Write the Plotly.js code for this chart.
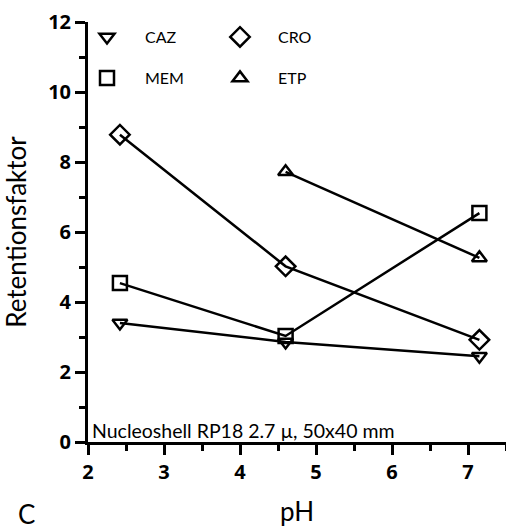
<!DOCTYPE html>
<html><head><meta charset="utf-8">
<script src="https://cdn.plot.ly/plotly-3.0.1.min.js"></script>
<style>html,body{margin:0;padding:0;background:#fff}#c{width:506px;height:527px}</style>
</head><body><div id="c"></div>
<script>
const pH = [2.42, 4.6, 7.15];
const CAZ = [3.4, 2.86, 2.45];
const MEM = [4.54, 3.03, 6.54];
const CRO = [8.78, 5.02, 2.92];
const ETP_pH = [4.6, 7.15];
const ETP = [7.72, 5.26];
const seriesNames = ['CAZ', 'MEM', 'CRO', 'ETP'];
const yTitle = 'Retentionsfaktor';
const xTitle = 'pH';
const note = 'Nucleoshell RP18 2.7 µ, 50x40 mm';
const panel = 'C';

const F = 'Lato, "Open Sans", sans-serif';
const FB = '"Open Sans", sans-serif';
const symbols = {CAZ:'triangle-down-open', MEM:'square-open', CRO:'diamond-open', ETP:'triangle-up-open'};
const sizes = {CAZ:13, MEM:14, CRO:15, ETP:13};
const data = {CAZ:[pH,CAZ], MEM:[pH,MEM], CRO:[pH,CRO], ETP:[ETP_pH,ETP]};
const legendIds = {CAZ:'legend', MEM:'legend2', CRO:'legend3', ETP:'legend4'};

const traces = [];
seriesNames.forEach(n => {
  traces.push({x:data[n][0].slice(), y:data[n][1].slice(), mode:'lines+markers', showlegend:false,
    line:{color:'#000', width:2.5},
    marker:{symbol:symbols[n], size:sizes[n], color:'#000', line:{width:2.5, color:'#000'}}});
});
seriesNames.forEach(n => {
  traces.push({x:[null], y:[null], mode:'markers', name:n, legend:legendIds[n], showlegend:true,
    marker:{symbol:symbols[n], size:sizes[n], color:'#000', line:{width:2.5, color:'#000'}}});
});

// plot area: x 88..506, y 22..442
function leg(xpx, ypx){
  return {xref:'paper', yref:'paper', x:(xpx-88)/418, y:(442-ypx)/420, xanchor:'left', yanchor:'middle',
    bgcolor:'rgba(0,0,0,0)', borderwidth:0, itemwidth:66, font:{family:F, size:16, color:'#000'}};
}

const layout = {
  width:506, height:527,
  margin:{l:88, r:0, t:22, b:85, autoexpand:false},
  paper_bgcolor:'#fff', plot_bgcolor:'#fff',
  xaxis:{range:[2,7.5], tickmode:'linear', tick0:2, dtick:1, showgrid:false, zeroline:false, layer:'above traces',
    showline:true, linewidth:3, linecolor:'#000', ticks:'outside', ticklen:10, tickwidth:3, tickcolor:'#000',
    minor:{dtick:0.5, ticks:'outside', ticklen:6, tickwidth:3, tickcolor:'#000'},
    tickfont:{family:FB, size:20, color:'#000', weight:'bold'},
    title:{text:xTitle, font:{family:F, size:26}}},
  yaxis:{range:[0,12], tickmode:'linear', tick0:0, dtick:2, showgrid:false, zeroline:false, layer:'above traces',
    showline:true, linewidth:3, linecolor:'#000', ticks:'outside', ticklen:10, tickwidth:3, tickcolor:'#000',
    minor:{dtick:1, ticks:'outside', ticklen:6, tickwidth:3, tickcolor:'#000'},
    tickfont:{family:FB, size:20, color:'#000', weight:'bold'},
    title:{text:yTitle, font:{family:F, size:26}}},
  font:{color:'#000'},
  legend:leg(69,37), legend2:leg(69,78), legend3:leg(202,37), legend4:leg(202,78),
  annotations:[
    {xref:'paper', yref:'paper', x:0.005, y:0, xanchor:'left', yanchor:'bottom', text:note, showarrow:false,
      font:{family:F, size:19.5, color:'#000'}, yshift:-2},
    {xref:'paper', yref:'paper', x:(27-88)/418, y:(442-514)/420, xanchor:'center', yanchor:'middle', text:panel, showarrow:false,
      font:{family:F, size:26, color:'#000'}}
  ]
};
Plotly.newPlot('c', traces, layout, {displayModeBar:false});
</script></body></html>
